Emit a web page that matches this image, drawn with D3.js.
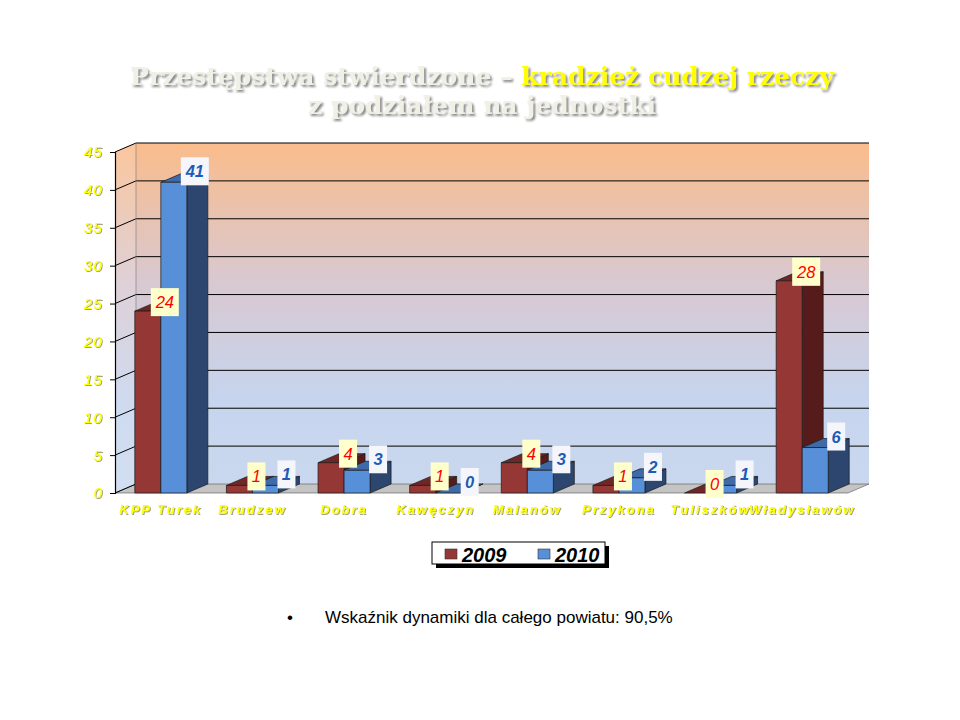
<!DOCTYPE html>
<html><head><meta charset="utf-8">
<script src="https://cdn.jsdelivr.net/npm/d3@7"></script>
<style>body{margin:0;background:#fff;} svg{display:block;}</style>
</head><body>
<script>
const categories = ["KPP Turek","Brudzew","Dobra","Kawęczyn","Malanów","Przykona","Tuliszków","Władysławów"];
const series = ["2009","2010"];
const values2009 = [24,1,4,1,4,1,0,28];
const values2010 = [41,1,3,0,3,2,1,6];
const yTicks = [0,5,10,15,20,25,30,35,40,45];
const titleLine1a = "Przestępstwa stwierdzone – ";
const titleLine1b = "kradzież cudzej rzeczy";
const titleLine2 = "z podziałem na jednostki";
const footnote = "Wskaźnik dynamiki dla całego powiatu: 90,5%";

const W = 960, H = 720;
const svg = d3.select("body").append("svg").attr("width", W).attr("height", H);
const defs = svg.append("defs");

const DX = 21, DY = -9;
const x0 = d3.scaleBand().domain(categories).range([115, 848]).paddingInner(0.432).paddingOuter(0.216);
const x1 = d3.scaleBand().domain(series).range([0, x0.bandwidth()]);
const y = d3.scaleLinear().domain([0, 45]).range([493, 152]);

const g1 = defs.append("linearGradient").attr("id","wallGrad").attr("x1",0).attr("y1",0).attr("x2",0).attr("y2",1);
g1.append("stop").attr("offset","0%").attr("stop-color","#fabc8c");
g1.append("stop").attr("offset","40%").attr("stop-color","#d9c8d0");
g1.append("stop").attr("offset","75%").attr("stop-color","#c6d4ee");
g1.append("stop").attr("offset","100%").attr("stop-color","#cad8ee");

const f = defs.append("filter").attr("id","shadow").attr("x","-10%").attr("y","-10%").attr("width","130%").attr("height","140%");
f.append("feDropShadow").attr("dx",2).attr("dy",2).attr("stdDeviation",0.8).attr("flood-color","#7a7a7a").attr("flood-opacity",0.9);
const f2 = defs.append("filter").attr("id","shadowSmall").attr("x","-10%").attr("y","-10%").attr("width","130%").attr("height","140%");
f2.append("feDropShadow").attr("dx",1).attr("dy",1).attr("stdDeviation",0.3).attr("flood-color","#9a9a70").attr("flood-opacity",0.9);

const [xl, xr] = x0.range();
const y0 = y(0), yTop = y(45);

svg.append("rect").attr("x", xl+DX).attr("y", yTop+DY).attr("width", xr-xl).attr("height", y0-yTop).attr("fill","url(#wallGrad)");
svg.append("path").attr("d", `M${xl},${yTop} L${xl+DX},${yTop+DY} L${xl+DX},${y0+DY} L${xl},${y0} Z`).attr("fill","url(#wallGrad)").attr("opacity",0.85);
svg.append("path").attr("d", `M${xl},${y0} L${xl+DX},${y0+DY} L${xr+DX},${y0+DY} L${xr},${y0} Z`).attr("fill","#c4c4c4").attr("stroke","#555").attr("stroke-width",0.6);

yTicks.forEach(v => {
  if (v === 0) return;
  svg.append("line").attr("x1", xl+DX).attr("x2", xr+DX).attr("y1", y(v)+DY).attr("y2", y(v)+DY).attr("stroke","#000").attr("stroke-width",1);
  svg.append("line").attr("x1", xl).attr("x2", xl+DX).attr("y1", y(v)).attr("y2", y(v)+DY).attr("stroke","#000").attr("stroke-width",1);
});
svg.append("line").attr("x1", xl).attr("x2", xl+DX).attr("y1", y0).attr("y2", y0+DY).attr("stroke","#000").attr("stroke-width",1);
svg.append("line").attr("x1", xl+DX).attr("x2", xl+DX).attr("y1", yTop+DY).attr("y2", y0+DY).attr("stroke","#777").attr("stroke-width",0.6);

const yAxis = d3.axisLeft(y).tickValues(yTicks).tickSize(5).tickPadding(7);
const ya = svg.append("g").attr("transform", `translate(${xl},0)`).call(yAxis);
ya.select(".domain").attr("stroke","#000").attr("stroke-width",1.2);
ya.selectAll(".tick line").attr("stroke","#000");
ya.selectAll("text").attr("fill","#ffff00").attr("font-family","Arial, 'Liberation Sans', sans-serif")
  .attr("font-size",15.5).attr("font-style","italic").attr("letter-spacing",1).attr("filter","url(#shadowSmall)");

const colors = {
  "2009": {front:"#953735", top:"#6f2725", side:"#561c1b"},
  "2010": {front:"#5790d9", top:"#3f6aa6", side:"#2c4670"}
};
const data = categories.map((c,i) => ({cat:c, vals:[{s:"2009", v:values2009[i]},{s:"2010", v:values2010[i]}]}));

const barsG = svg.append("g");
data.forEach(d => {
  d.vals.forEach(b => {
    const c = colors[b.s];
    const xa = x0(d.cat) + x1(b.s), xb = xa + x1.bandwidth();
    const yt = y(b.v);
    const g = barsG.append("g").attr("stroke","#1a1a1a").attr("stroke-width",0.7).attr("stroke-linejoin","round");
    g.append("path").attr("d", `M${xb},${yt} L${xb+DX},${yt+DY} L${xb+DX},${y0+DY} L${xb},${y0} Z`).attr("fill", c.side);
    g.append("path").attr("d", `M${xa},${yt} L${xa+DX},${yt+DY} L${xb+DX},${yt+DY} L${xb},${yt} Z`).attr("fill", c.top);
    if (b.v > 0) g.append("rect").attr("x", xa).attr("y", yt).attr("width", xb-xa).attr("height", y0-yt).attr("fill", c.front);
  });
});

const labelsG = svg.append("g");
data.forEach(d => {
  d.vals.forEach(b => {
    const xb = x0(d.cat) + x1(b.s) + x1.bandwidth();
    const yt = y(b.v);
    const is09 = b.s === "2009";
    const cx = xb + (is09 ? 4 : 8);
    const cy = yt - (is09 ? 9 : 11);
    const txt = String(b.v);
    const w = txt.length > 1 ? 28 : 18, h = 28;
    labelsG.append("rect").attr("x", cx - w/2).attr("y", cy - h/2).attr("width", w).attr("height", h)
      .attr("fill", is09 ? "#ffffcc" : "#f4f6fb");
    labelsG.append("text").attr("x", cx).attr("y", cy + 6).attr("text-anchor","middle")
      .attr("font-family","Arial, 'Liberation Sans', sans-serif").attr("font-size",16.5).attr("font-style","italic")
      .attr("font-weight", is09 ? "normal" : "bold")
      .attr("fill", is09 ? "#ff0000" : "#1c5cb8").text(txt);
  });
});

svg.append("g").selectAll("text").data(categories).join("text")
  .attr("x", d => x0(d) + x0.bandwidth()/2).attr("y", 514).attr("text-anchor","middle")
  .attr("font-family","Arial, 'Liberation Sans', sans-serif").attr("font-size",13).attr("font-style","italic").attr("font-weight","bold")
  .attr("letter-spacing",2).attr("fill","#ffff00").attr("filter","url(#shadowSmall)").text(d => d);

const lg = svg.append("g");
lg.append("rect").attr("x",436).attr("y",546).attr("width",173).attr("height",22).attr("fill","#000");
lg.append("rect").attr("x",432).attr("y",542).attr("width",173).attr("height",22).attr("fill","#fff").attr("stroke","#000").attr("stroke-width",1);
series.forEach((s,i) => {
  const lx = 445 + i*93;
  lg.append("rect").attr("x", lx).attr("y",549).attr("width",12).attr("height",10).attr("fill", colors[s].front).attr("stroke","#333").attr("stroke-width",0.6);
  lg.append("text").attr("x", lx + 17).attr("y", 562).attr("font-family","Arial, 'Liberation Sans', sans-serif")
    .attr("font-size",20).attr("font-weight","bold").attr("font-style","italic").attr("fill","#000").text(s);
});

const title = svg.append("g").attr("font-family","'DejaVu Serif', serif").attr("font-weight","bold").attr("font-size",25).attr("filter","url(#shadow)");
const t1 = title.append("text").attr("x",482).attr("y",85).attr("text-anchor","middle");
t1.append("tspan").attr("fill","#f0f0e6").text(titleLine1a);
t1.append("tspan").attr("fill","#ffff00").text(titleLine1b);
title.append("text").attr("x",482).attr("y",114).attr("text-anchor","middle").attr("fill","#f0f0e6").text(titleLine2);

svg.append("text").attr("x",287).attr("y",623).attr("font-family","Arial, 'Liberation Sans', sans-serif").attr("font-size",17).attr("fill","#000").text("•");
svg.append("text").attr("x",325).attr("y",623).attr("font-family","Arial, 'Liberation Sans', sans-serif").attr("font-size",17).attr("fill","#000").text(footnote);
</script>
</body></html>
